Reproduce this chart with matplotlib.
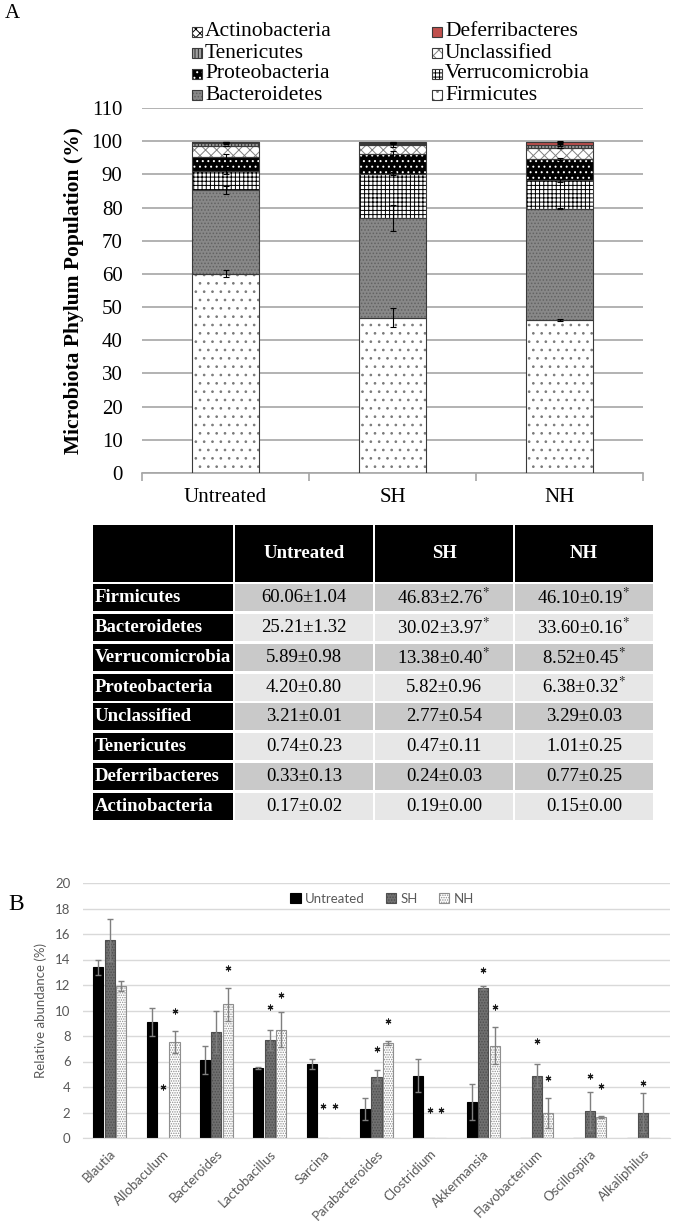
import numpy as np
import matplotlib.pyplot as plt
from matplotlib.patches import Rectangle

plt.rcParams['font.family'] = ['Liberation Serif', 'DejaVu Serif']
plt.rcParams['mathtext.fontset'] = 'stix'
plt.rcParams['hatch.linewidth'] = 0.7

# ---------------- panel A data (phylum level, %)
groups = ['Untreated', 'SH', 'NH']
phyla = ['Firmicutes', 'Bacteroidetes', 'Verrucomicrobia', 'Proteobacteria',
         'Unclassified', 'Tenericutes', 'Deferribacteres', 'Actinobacteria']
untreated_mean = [60.06, 25.21, 5.89, 4.20, 3.21, 0.74, 0.33, 0.17]
untreated_err = [1.04, 1.32, 0.98, 0.80, 0.01, 0.23, 0.13, 0.02]
sh_mean = [46.83, 30.02, 13.38, 5.82, 2.77, 0.47, 0.24, 0.19]
sh_err = [2.76, 3.97, 0.40, 0.96, 0.54, 0.11, 0.03, 0.00]
nh_mean = [46.10, 33.60, 8.52, 6.38, 3.29, 1.01, 0.77, 0.15]
nh_err = [0.19, 0.16, 0.45, 0.32, 0.03, 0.25, 0.25, 0.00]
untreated_sig = [0, 0, 0, 0, 0, 0, 0, 0]
sh_sig = [1, 1, 1, 0, 0, 0, 0, 0]
nh_sig = [1, 1, 1, 1, 0, 0, 0, 0]

# ---------------- panel B data (genus level, %)
genera = ['Blautia', 'Allobaculum', 'Bacteroides', 'Lactobacillus', 'Sarcina',
          'Parabacteroides', 'Clostridium', 'Akkermansia', 'Flavobacterium',
          'Oscillospira', 'Alkaliphilus']
series_b = ['Untreated', 'SH', 'NH']
b_untreated = [13.4, 9.1, 6.1, 5.5, 5.8, 2.3, 4.9, 2.8, 0, 0, 0]
b_untreated_err = [0.6, 1.1, 1.1, 0.1, 0.4, 0.85, 1.3, 1.4, 0, 0, 0]
b_sh = [15.5, 0, 8.35, 7.7, 0, 4.8, 0, 11.8, 4.9, 2.1, 2.0]
b_sh_err = [1.65, 0, 1.65, 0.8, 0, 0.5, 0, 0.1, 0.9, 1.5, 1.5]
b_nh = [11.95, 7.55, 10.5, 8.5, 0, 7.45, 0, 7.25, 1.95, 1.65, 0]
b_nh_err = [0.4, 0.85, 1.3, 1.4, 0, 0.15, 0, 1.45, 1.15, 0.1, 0]
nan = float('nan')
star_sh = [nan, 4.0, nan, 10.3, 2.5, 7.0, 2.2, 13.2, 7.6, 4.9, 4.3]
star_nh = [nan, 10.0, 13.3, 11.2, 2.5, 9.2, 2.2, 10.3, 4.7, 4.1, nan]

W, H = 675, 1221
fig = plt.figure(figsize=(W / 100, H / 100), dpi=100)


def box(l, t, r, b):
    return [l / W, 1 - b / H, (r - l) / W, (b - t) / H]


# overlay in pixel coords for legend A and the table
ov = fig.add_axes([0, 0, 1, 1])
ov.set_xlim(0, W)
ov.set_ylim(H, 0)
ov.axis('off')

# hatch styles per phylum: face, hatch colour, hatch
styles = [
    ('white', '#7a7a7a', '..'),
    ('#888888', '#626262', '.....'),
    ('white', 'black', '++++'),
    ('black', 'white', '...'),
    ('white', '#808080', 'xxx'),
    ('#a0a0a0', '#2a2a2a', '|||||'),
    ('#c0504d', '#c0504d', ''),
    ('white', 'black', 'xxxx'),
]

# ---------------- panel A
axA = fig.add_axes(box(142, 108, 643, 473))
means = [untreated_mean, sh_mean, nh_mean]
errs = [untreated_err, sh_err, nh_err]
x = np.arange(len(groups))
bottom = np.zeros(len(groups))
for k, name in enumerate(phyla):
    vals = np.array([m[k] for m in means])
    e = np.array([er[k] for er in errs])
    fc, hc, ht = styles[k]
    axA.bar(x, vals, 0.4, bottom=bottom, color=fc, edgecolor=hc, hatch=ht,
            linewidth=0, zorder=2)
    axA.bar(x, vals, 0.4, bottom=bottom, fill=False, edgecolor='#3a3a3a',
            linewidth=0.8, zorder=3)
    axA.errorbar(x, bottom + vals, yerr=e, fmt='none', ecolor='black',
                 elinewidth=0.8, capsize=2.5, capthick=0.8, zorder=4)
    bottom += vals

axA.set_xlim(-0.5, 2.5)
axA.set_ylim(0, 110)
axA.set_yticks(range(0, 111, 10))
axA.grid(axis='y', color='#a6a6a6', lw=1.2)
axA.set_axisbelow(True)
for s in ['top', 'right', 'left']:
    axA.spines[s].set_visible(False)
axA.spines['bottom'].set_color('#a6a6a6')
axA.spines['bottom'].set_linewidth(1.2)
axA.set_xticks(x, groups)
axA.set_xticks([-0.5, 0.5, 1.5, 2.5], minor=True)
axA.tick_params(axis='x', which='major', length=0, pad=11, labelsize=15)
axA.tick_params(axis='x', which='minor', length=6, color='#a6a6a6', width=1.2)
axA.tick_params(axis='y', length=0, pad=14, labelsize=15)
axA.set_ylabel('Microbiota Phylum Population (%)', fontsize=15.5, fontweight='bold')
axA.yaxis.set_label_coords(-0.116, 0.5)

fig.text(5 / W, 1 - 14 / H, 'A', fontsize=15, va='center')

# legend A (manual, two columns, reversed order)
order = phyla[::-1]
for i, name in enumerate(order):
    k = phyla.index(name)
    fc, hc, ht = styles[k]
    cx = [192, 432][i % 2]
    cy = [32, 53, 74, 95][i // 2]
    ov.add_patch(Rectangle((cx, cy - 5), 10, 10, facecolor=fc, edgecolor=hc,
                           hatch=ht, linewidth=0))
    ov.add_patch(Rectangle((cx, cy - 5), 10, 10, fill=False,
                           edgecolor='#3a3a3a', linewidth=0.8))
    ov.text(cx + 13, cy, name, fontsize=15.5, va='center', ha='left')

# ---------------- table
tx = [92, 234, 374, 514, 654]
t_top, h_bot, t_bot = 524, 583, 821
row_h = (t_bot - h_bot) / len(phyla)
g = 1.3
for c in range(4):
    ov.add_patch(Rectangle((tx[c] + g, t_top + g), tx[c + 1] - tx[c] - 2 * g,
                           h_bot - t_top - 2 * g, facecolor='black', lw=0))
    if c > 0:
        ov.text((tx[c] + tx[c + 1]) / 2, (t_top + h_bot) / 2, groups[c - 1],
                color='white', fontsize=13.5, fontweight='bold',
                ha='center', va='center')
sigs = [untreated_sig, sh_sig, nh_sig]
for r, name in enumerate(phyla):
    y0 = h_bot + r * row_h
    shade = '#c9c9c9' if r % 2 == 0 else '#e7e7e7'
    ov.add_patch(Rectangle((tx[0] + g, y0 + g), tx[1] - tx[0] - 2 * g,
                           row_h - 2 * g, facecolor='black', lw=0))
    ov.text(tx[0] + 3, y0 + row_h / 2, name, color='white', fontsize=13.5,
            fontweight='bold', ha='left', va='center')
    for c in range(3):
        ov.add_patch(Rectangle((tx[c + 1] + g, y0 + g),
                               tx[c + 2] - tx[c + 1] - 2 * g, row_h - 2 * g,
                               facecolor=shade, lw=0))
        label = f'{means[c][r]:.2f}±{errs[c][r]:.2f}'
        if sigs[c][r]:
            label += r'$^{*}$'
        ov.text((tx[c + 1] + tx[c + 2]) / 2, y0 + row_h / 2, label,
                fontsize=13.5, ha='center', va='center')

# ---------------- panel B
axB = fig.add_axes(box(83, 883, 670, 1138))
xb = np.arange(len(genera))
w, off = 0.19, 0.215
vals_b = [b_untreated, b_sh, b_nh]
errs_b = [b_untreated_err, b_sh_err, b_nh_err]
stars_b = [None, star_sh, star_nh]
looks = [dict(color='black', edgecolor='black', hatch=''),
         dict(color='#707070', edgecolor='#4f4f4f', hatch='......'),
         dict(color='white', edgecolor='#8f8f8f', hatch='.......')]
handles = []
for j in range(3):
    pos = xb + (j - 1) * off
    bars = axB.bar(pos, vals_b[j], w, linewidth=0.8, zorder=2, **looks[j])
    handles.append(bars)
    v = np.array(vals_b[j])
    e = np.array(errs_b[j])
    m = v > 0
    axB.errorbar(pos[m], v[m], yerr=e[m], fmt='none', ecolor='#7f7f7f',
                 elinewidth=1, capsize=2, capthick=1, zorder=3)
    if stars_b[j] is not None:
        sv = np.array(stars_b[j])
        sm = ~np.isnan(sv)
        axB.scatter(pos[sm], sv[sm], marker=(6, 2, 0), s=13, c='#1a1a1a',
                    linewidths=0.8, zorder=4)

axB.set_xlim(-0.5, len(genera) - 0.5)
axB.set_ylim(0, 20)
axB.set_yticks(range(0, 21, 2))
axB.grid(axis='y', color='#d9d9d9', lw=1)
axB.set_axisbelow(True)
for s in ['top', 'right', 'left']:
    axB.spines[s].set_visible(False)
axB.spines['bottom'].set_color('#d9d9d9')
axB.set_xticks(xb)
axB.set_xticklabels(genera, rotation=45, ha='right', rotation_mode='anchor',
                    fontsize=9.5, color='#595959', family='Lato')
axB.tick_params(axis='x', length=0, pad=7)
axB.tick_params(axis='y', length=0, pad=9, labelsize=9.5, labelcolor='#595959')
for t in axB.get_yticklabels():
    t.set_family('Lato')
axB.set_ylabel('Relative abundance (%)', fontsize=9.5, color='#595959',
               family='Lato')
axB.yaxis.set_label_coords(-0.061, 0.5)
axB.legend(handles, series_b, ncol=3, loc='center',
           bbox_to_anchor=(382 / W, 1 - 899 / H), bbox_transform=fig.transFigure,
           frameon=False, prop={'family': 'Lato', 'size': 9.5},
           handlelength=0.8, handleheight=0.8, columnspacing=1.6,
           handletextpad=0.3, labelcolor='#595959')

fig.text(8 / W, 1 - 905 / H, 'B', fontsize=17, va='center')

fig.savefig('out.png', dpi=100)
